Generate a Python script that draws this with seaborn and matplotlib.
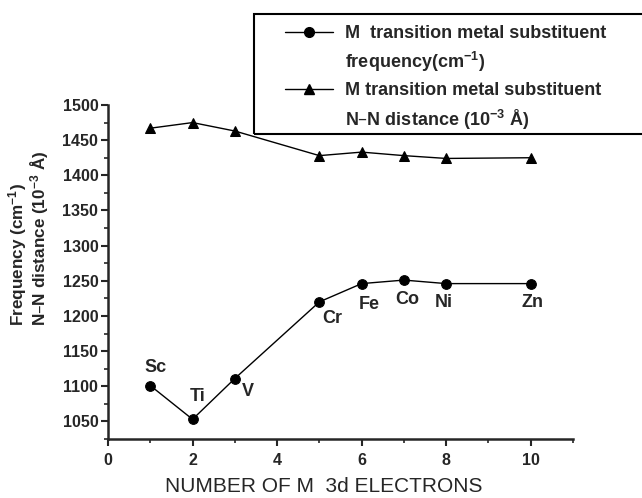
import matplotlib
matplotlib.use("Agg")
import matplotlib.pyplot as plt
from matplotlib.lines import Line2D
from matplotlib.patches import Rectangle
from matplotlib.ticker import MultipleLocator
import seaborn as sns
import pandas as pd

# ---- data ----
electrons = [1, 2, 3, 5, 6, 7, 8, 10]
metals = ["Sc", "Ti", "V", "Cr", "Fe", "Co", "Ni", "Zn"]
frequency = [1101, 1053, 1111, 1220, 1246, 1251, 1246, 1246]
nn_distance = [1467, 1475, 1463, 1428, 1433, 1428, 1424, 1425]

label_offsets = [(5, 18), (5, 23), (13, -13), (13, -17), (8, -21), (3, -19), (-2, -19), (2, -19)]

sns.set_style("ticks")
plt.rcParams["font.family"] = ["Liberation Sans", "DejaVu Sans"]
plt.rcParams["mathtext.default"] = "regular"

df = pd.DataFrame({"x": electrons, "freq": frequency, "nn": nn_distance, "metal": metals})

fig = plt.figure(figsize=(6.42, 4.98), dpi=100)
ax = fig.add_axes([108 / 642, 1 - 439 / 498, (573 - 108) / 642, (439 - 105) / 498])

sns.lineplot(data=df, x="x", y="freq", ax=ax, color="black", lw=1.0,
             marker="o", markersize=7, markeredgecolor="black", markerfacecolor="black")
sns.lineplot(data=df, x="x", y="nn", ax=ax, color="black", lw=1.0,
             marker="^", markersize=7, markeredgecolor="black", markerfacecolor="black")

for xv, yv, name, (dx, dy) in zip(electrons, frequency, metals, label_offsets):
    ax.annotate(name, (xv, yv), xytext=(dx, dy), textcoords="offset pixels",
                ha="center", va="center", fontsize=13, fontweight="bold")

ax.set_xlim(0, 11)
ax.set_ylim(1025, 1500)
ax.xaxis.set_major_locator(MultipleLocator(2))
ax.xaxis.set_minor_locator(MultipleLocator(1))
ax.yaxis.set_major_locator(MultipleLocator(50))
ax.yaxis.set_minor_locator(MultipleLocator(25))
ax.set_xticks([0, 2, 4, 6, 8, 10])
ax.set_yticks(list(range(1050, 1501, 50)))
sns.despine(ax=ax)
for s in ["left", "bottom"]:
    ax.spines[s].set_linewidth(1.8)
ax.tick_params(axis="both", which="major", length=5, width=1.5, labelsize=11.5)
ax.tick_params(axis="x", which="major", pad=5)
ax.tick_params(axis="y", which="major", pad=2)
ax.tick_params(axis="both", which="minor", length=3, width=1.2)
for t in ax.get_xticklabels() + ax.get_yticklabels():
    t.set_fontweight("bold")

ax.set_xlabel("NUMBER OF M  3d ELECTRONS", fontsize=15)
ax.xaxis.set_label_coords(0.465, -0.115)
ax.set_ylabel("Frequency (cm$^{-1}$)\nN\u2013N distance (10$^{-3}$ \u00c5)",
              fontsize=12.3, fontweight="bold", linespacing=1.0,
              multialignment="left")
ax.yaxis.set_label_coords(-0.122, 0.60)

# legend box
fig.patches.append(Rectangle((254 / 642, 1 - 134 / 498), 0.7, (134 - 14) / 498,
                             transform=fig.transFigure, fill=False, lw=1.5,
                             edgecolor="black", clip_on=False))
blank = Line2D([], [], linestyle="none")
h1 = Line2D([], [], color="black", lw=1.0, marker="o", markersize=7)
h2 = Line2D([], [], color="black", lw=1.0, marker="^", markersize=7)
leg = fig.legend([h1, blank, h2, blank],
                 ["M  transition metal substituent", "frequency(cm$^{-1}$)",
                  "M transition metal substituent", "N\u2013N distance (10$^{-3}$ \u00c5)"],
                 loc="upper left", bbox_to_anchor=(285 / 642, 1 - 25 / 498),
                 bbox_transform=fig.transFigure, frameon=False,
                 prop={"weight": "bold", "size": 13},
                 handlelength=2.65, handletextpad=0.68, labelspacing=0.45,
                 borderpad=0, borderaxespad=0)

fig.savefig("out.png", dpi=100)
